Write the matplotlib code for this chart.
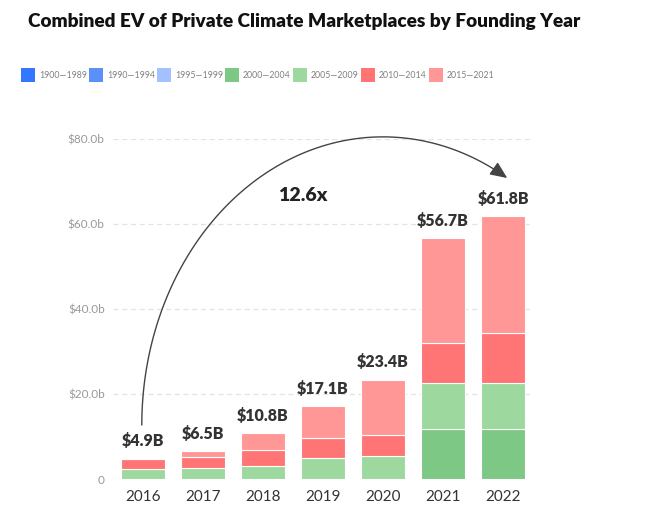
import numpy as np
import matplotlib
matplotlib.use("Agg")
import matplotlib.pyplot as plt
from matplotlib.patches import Rectangle, FancyArrowPatch
from matplotlib.path import Path

plt.rcParams['font.family'] = ['Lato', 'DejaVu Sans']

years = ['2016', '2017', '2018', '2019', '2020', '2021', '2022']
series = ['1900\u20141989', '1990\u20141994', '1995\u20141999', '2000\u20142004',
          '2005\u20142009', '2010\u20142014', '2015\u20142021']
colors = ['#3377ff', '#5b8ff9', '#a3c1ff', '#7dc885', '#9dd89f', '#ff7575', '#ff9797']

# values in $b, per founding-year bucket
v_1900_1989 = [0, 0, 0, 0, 0, 0, 0]
v_1990_1994 = [0, 0, 0, 0, 0, 0, 0]
v_1995_1999 = [0, 0, 0, 0, 0, 0, 0]
v_2000_2004 = [0, 0, 0, 0, 0, 11.8, 11.8]
v_2005_2009 = [2.3, 2.7, 3.0, 5.0, 5.4, 10.7, 10.7]
v_2010_2014 = [2.3, 2.4, 3.9, 4.6, 5.0, 9.6, 11.9]
v_2015_2021 = [0.3, 1.4, 3.9, 7.5, 13.0, 24.6, 27.4]
totals = ['$4.9B', '$6.5B', '$10.8B', '$17.1B', '$23.4B', '$56.7B', '$61.8B']
multiple = '12.6x'

values = [v_1900_1989, v_1990_1994, v_1995_1999, v_2000_2004,
          v_2005_2009, v_2010_2014, v_2015_2021]

fig = plt.figure(figsize=(6.53, 5.26), dpi=100)
ax = fig.add_axes([113 / 653, 1 - 479 / 526, 420 / 653, 340 / 526])

x = np.arange(len(years))
bottom = np.zeros(len(years))
for vals, col in zip(values, colors):
    vals = np.array(vals, dtype=float)
    ax.bar(x, vals, 0.72, bottom=bottom, color=col, edgecolor='white',
           linewidth=0.8, zorder=3)
    bottom += vals

for xi, top, lab in zip(x, bottom, totals):
    ax.text(xi, top + 2.2, lab, ha='center', va='bottom', fontsize=11.5,
            fontweight='heavy', color='#333333')

ax.set_xlim(-0.5, 6.5)
ax.set_ylim(0, 80)
ax.set_yticks([0, 20, 40, 60, 80])
ax.set_yticklabels(['0', '$20.0b', '$40.0b', '$60.0b', '$80.0b'])
ax.set_xticks(x)
ax.set_xticklabels(years)
ax.tick_params(axis='y', length=0, pad=6, labelsize=8.5, labelcolor='#999999')
ax.tick_params(axis='x', length=0, pad=8, labelsize=11, labelcolor='#333333')
ax.grid(axis='y', color='#e3e3e3', linestyle=(0, (4, 3)), linewidth=0.9, zorder=0)
for s in ax.spines.values():
    s.set_visible(False)

# growth arc from 2016 to 2022
t = np.linspace(np.pi, np.radians(59), 120)
cx, cy, rx, ry = 4.0, 12.7, 4.02, 67.8
arc = Path(np.column_stack([cx + rx * np.cos(t), cy + ry * np.sin(t)]))
arrow = FancyArrowPatch(path=arc, arrowstyle='-|>,head_length=0.8,head_width=0.35',
                        mutation_scale=13, color='#444444', linewidth=1.0,
                        clip_on=False, zorder=5)
ax.add_patch(arrow)
ax.text(2.67, 66.6, multiple, ha='center', va='center', fontsize=14,
        fontweight='heavy', color='#222222')

fig.text(28 / 653, 1 - 22 / 526, 'Combined EV of Private Climate Marketplaces by Founding Year',
         fontsize=13.7, fontweight='heavy', color='#111111', va='center', ha='left')

# legend row
for i, (lab, col) in enumerate(zip(series, colors)):
    lx = 21 + 68 * i
    fig.patches.append(Rectangle((lx / 653, 1 - 82 / 526), 14 / 653, 14 / 526,
                                 transform=fig.transFigure, facecolor=col,
                                 edgecolor='none'))
    fig.text((lx + 18) / 653, 1 - 75 / 526, lab, fontsize=6.3, color='#808080',
             va='center', ha='left')

fig.savefig('out.png', dpi=100)
